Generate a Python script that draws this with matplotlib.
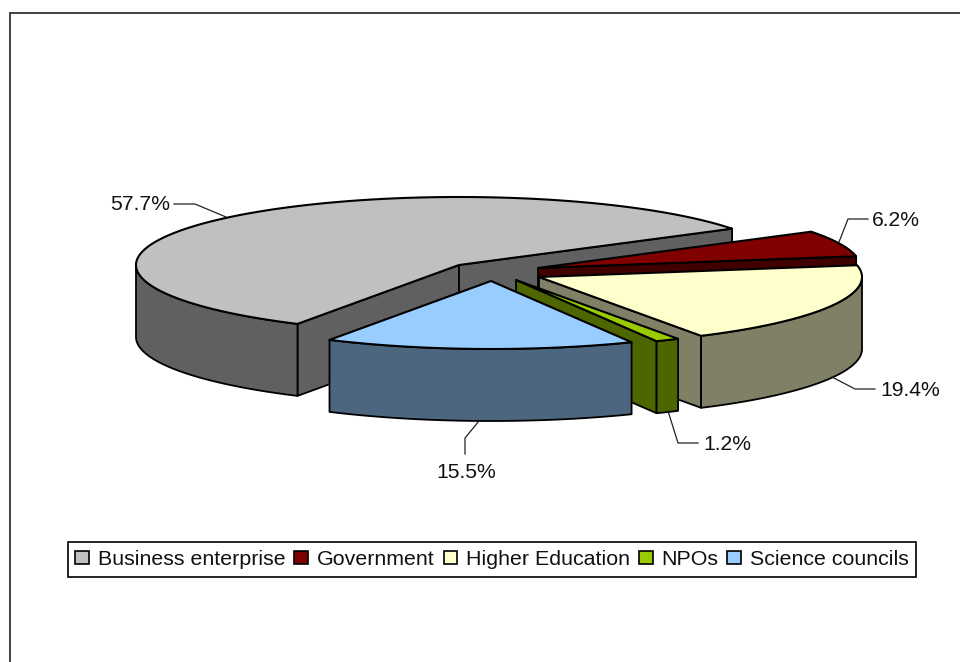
import numpy as np
import matplotlib
matplotlib.use("Agg")
import matplotlib.pyplot as plt
from matplotlib.patches import Polygon, Patch

plt.rcParams['font.family'] = ['Liberation Sans', 'DejaVu Sans']

# Data
categories = ["Business enterprise", "Government", "Higher Education", "NPOs", "Science councils"]
shares = [57.7, 6.2, 19.4, 1.2, 15.5]

# Style
top_colors = ["#C0C0C0", "#800000", "#FFFFCC", "#99CC00", "#99CCFF"]
side_colors = ["#606060", "#400000", "#808066", "#4D6600", "#4D6680"]

# Layout (pixel space of the 960x662 figure)
START_ANGLE = 210.0
RX, RY, DEPTH = 323.0, 68.0, 72.0
apex_x = [459, 538, 539, 516, 491]
apex_y = [265, 268, 277, 280, 281]
label_xy = [(140, 205), (896, 220.5), (910, 390), (727, 444), (466, 472)]
leaders = [
    [(174, 204), (195, 204), (226, 217)],
    [(839, 242), (848, 219), (868, 219)],
    [(832, 377), (855, 389), (875, 389)],
    [(668, 411), (678, 443), (698, 443)],
    [(479, 421), (465, 438), (465, 454)],
]

fig = plt.figure(figsize=(9.6, 6.62), dpi=100)
ax = fig.add_axes([0, 0, 1, 1])
ax.set_xlim(0, 960)
ax.set_ylim(662, 0)
ax.axis("off")

ax.plot([9.5, 9.5, 960], [662, 13, 13], color="#333333", lw=1.3, solid_joinstyle="miter")


def rim(cx, cy, a0, a1):
    t = np.radians(np.linspace(a0, a1, max(int(abs(a1 - a0) * 2), 2)))
    return cx + RX * np.sin(t), cy - RY * np.cos(t)


def face(xs, ys, color):
    xs = np.asarray(xs)
    ys = np.asarray(ys)
    pts = np.r_[np.c_[xs, ys], np.c_[xs[::-1], ys[::-1] + DEPTH]]
    ax.add_patch(Polygon(pts, closed=True, facecolor=color, edgecolor="black",
                         lw=1.3, joinstyle="round"))


angle = START_ANGLE
for val, top, side, cx, cy in zip(shares, top_colors, side_colors, apex_x, apex_y):
    a0, a1 = angle, angle + val * 3.6
    angle = a1
    x, y = rim(cx, cy, a0, a1)
    # cut faces that turn toward the viewer
    if x[0] < cx:
        face([cx, x[0]], [cy, y[0]], side)
    if x[-1] > cx:
        face([x[-1], cx], [y[-1], cy], side)
    # outer wall: the part of the rim on the near half of the ellipse
    for k in (0, 360):
        lo, hi = max(a0, 90 + k), min(a1, 270 + k)
        if hi > lo:
            wx, wy = rim(cx, cy, lo, hi)
            face(wx, wy, side)
    ax.add_patch(Polygon(np.c_[np.r_[cx, x], np.r_[cy, y]], closed=True, facecolor=top,
                         edgecolor="black", lw=1.5, joinstyle="round"))

for val, (lx, ly), pts in zip(shares, label_xy, leaders):
    ax.plot(*zip(*pts), color="#222222", lw=0.9)
    ax.text(lx, ly, f"{val:.1f}%", ha="center", va="center", fontsize=15.2, color="#111111")

handles = [Patch(facecolor=c, edgecolor="black", lw=1.2) for c in top_colors]
leg = ax.legend(handles, categories, ncol=5, loc="center",
                bbox_to_anchor=(492, 559.5), bbox_transform=ax.transData,
                fontsize=15.4, fancybox=False, framealpha=1, edgecolor="black",
                handlelength=0.65, handleheight=0.5, handletextpad=0.4,
                columnspacing=0.42, borderpad=0.36, borderaxespad=0)
leg.get_frame().set_linewidth(1.2)
for t in leg.get_texts():
    t.set_color("#111111")

fig.savefig("out.png", dpi=100)
